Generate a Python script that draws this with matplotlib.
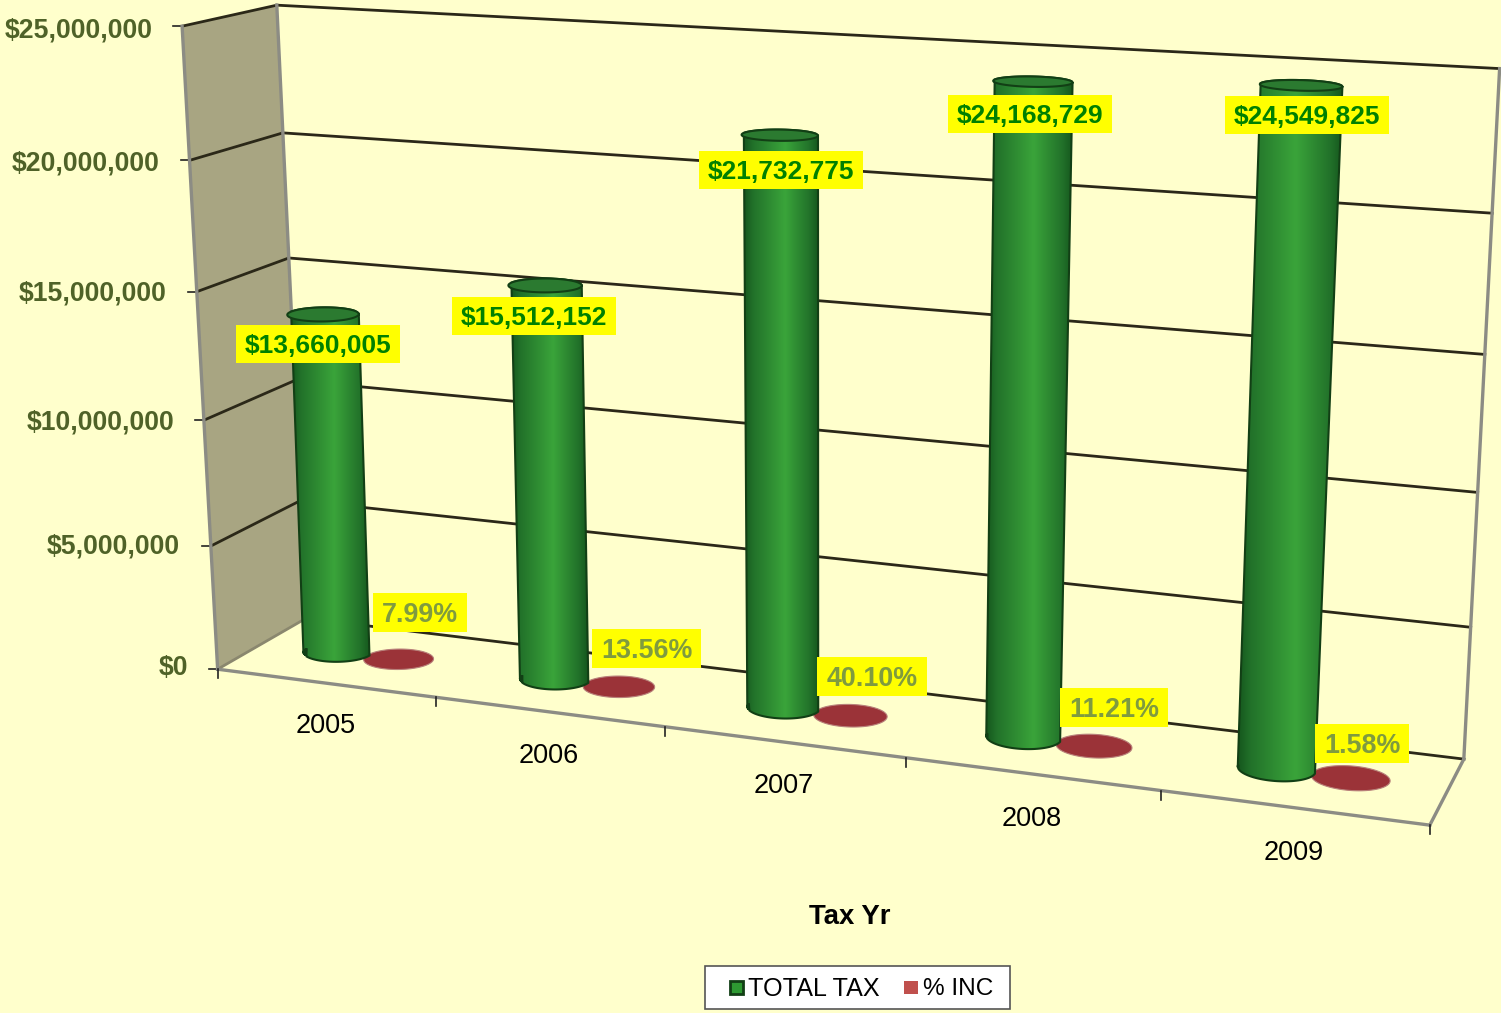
import numpy as np
import matplotlib
matplotlib.use('Agg')
import matplotlib.pyplot as plt
from matplotlib.patches import Polygon, Rectangle

plt.rcParams['font.family'] = ['Liberation Sans', 'DejaVu Sans']

years = ['2005', '2006', '2007', '2008', '2009']
total_tax = [13660005, 15512152, 21732775, 24168729, 24549825]
pct_inc = [7.99, 13.56, 40.10, 11.21, 1.58]
tax_labels = ['$13,660,005', '$15,512,152', '$21,732,775', '$24,168,729', '$24,549,825']
pct_labels = ['7.99%', '13.56%', '40.10%', '11.21%', '1.58%']
axis_ticks = [0, 5000000, 10000000, 15000000, 20000000, 25000000]

# text positions, in picture pixels
axis_label_y = [668, 546, 422, 293, 163, 30]
axis_label_right = [188, 180, 174, 167, 160, 153]
year_label_y = [726, 756, 786, 819, 853]
tax_label_pos = [(318, 344), (534, 316), (781, 170), (1030, 114), (1307, 115)]
pct_label_pos = [(420, 612.5), (646.5, 648.5), (872, 676.5), (1114, 707.5), (1362, 743.5)]

BG = '#FFFFCC'
WALL = '#A8A582'
GRID = '#2B2818'
EDGE = '#8C8C84'
AXIS_TEXT = '#4F6228'
DARK = '#123F15'

# the chart is a 3d box: (category, value, depth) -> pixel, fitted on the box's corners
calib = [
    (0, 0, 0, 219, 667), (1, 0, 0, 437, 696), (2, 0, 0, 665, 726), (3, 0, 0, 907, 759),
    (4, 0, 0, 1161, 792), (5, 0, 0, 1430, 828),
    (0, 5e6, 0, 211, 543), (0, 10e6, 0, 202, 420), (0, 15e6, 0, 195, 291),
    (0, 20e6, 0, 188, 160), (0, 25e6, 0, 183, 28), (0, 25e6, 0, 183, 28),
    (0, 0, 1, 306, 622), (0, 5e6, 1, 300, 503), (0, 10e6, 1, 295, 382),
    (0, 15e6, 1, 289, 256), (0, 20e6, 1, 283, 131), (0, 25e6, 1, 277, 5),
    (5, 0, 1, 1463, 757), (5, 5e6, 1, 1470, 627), (5, 10e6, 1, 1478, 491),
    (5, 15e6, 1, 1484, 353), (5, 20e6, 1, 1492, 213), (5, 25e6, 1, 1501, 70),
]


def fit_camera(points):
    rows = []
    for u, v, d, px, py in points:
        w = [u, v / 1e7, d, 1]
        rows.append(w + [0, 0, 0, 0] + [-px * c for c in w])
        rows.append([0, 0, 0, 0] + w + [-py * c for c in w])
    return np.linalg.svd(np.array(rows, dtype=float))[2][-1].reshape(3, 4)


cam = fit_camera(calib)


def project(u, v, d):
    u, v, d = np.broadcast_arrays(u, v, d)
    w = np.stack([u, v / 1e7, d, np.ones(u.shape)])
    p = cam @ w
    return p[0] / p[2], p[1] / p[2]


ANGLES = np.linspace(0, 2 * np.pi, 121)


def ring(u, v, d, ru=0.147, rd=0.18):
    return project(u + ru * np.cos(ANGLES), v, d + rd * np.sin(ANGLES))


def cylinder(ax, u, d, value):
    bx, by = ring(u, 0, d)
    tx, ty = ring(u, value, d)
    # side of the cylinder: lower half of the base, upper half of the top
    low = np.sin(ANGLES) < 0
    order = np.argsort(bx[low])
    side_x = list(bx[low][order])
    side_y = list(by[low][order])
    up = np.sin(ANGLES) > 0
    order = np.argsort(tx[up])[::-1]
    side_x += list(tx[up][order])
    side_y += list(ty[up][order])
    xy = np.column_stack([side_x, side_y])
    ax.add_patch(Polygon(xy, closed=True, fc='none', ec=DARK, lw=1.5, zorder=5))
    shade = np.array([0.0, 0.12, 0.55, 0.88, 1.0])
    x = np.linspace(0, 1, 64)
    rgb = np.stack([
        np.interp(x, shade, [0x16, 0x22, 0x3A, 0x22, 0x16]),
        np.interp(x, shade, [0x58, 0x72, 0xA4, 0x72, 0x58]),
        np.interp(x, shade, [0x1E, 0x2A, 0x3A, 0x2A, 0x1E]),
    ], axis=-1) / 255
    im = ax.imshow(rgb[np.newaxis, :, :], extent=(min(side_x), max(side_x), max(side_y), min(side_y)),
                   aspect='auto', interpolation='bilinear', zorder=4)
    im.set_clip_path(Polygon(xy, closed=True, transform=ax.transData))
    ax.add_patch(Polygon(np.column_stack([tx, ty]), closed=True, fc='#2B7A30', ec=DARK, lw=1.5, zorder=6))


def boxed_label(ax, pos, text, color, fontsize, height):
    lx, ly = pos
    t = ax.text(lx, ly + 2, text, ha='center', va='center', fontsize=fontsize, fontweight='bold',
                color=color, zorder=9)
    width = t.get_window_extent(fig.canvas.get_renderer()).width + 18
    ax.add_patch(Rectangle((lx - width / 2, ly - height / 2), width, height, fc='#FFFF00', ec='none', zorder=8))


fig = plt.figure(figsize=(15.01, 10.13), dpi=100, facecolor=BG)
ax = fig.add_axes([0, 0, 1, 1])
ax.set_xlim(0, 1501)
ax.set_ylim(1013, 0)
ax.axis('off')

# left wall
wall = [project(0, 0, 0), project(0, 25e6, 0), project(0, 25e6, 1), project(0, 0, 1)]
ax.add_patch(Polygon(wall, closed=True, fc=WALL, ec='none', zorder=1))

# gridlines across back wall and left wall
for tick, label_y, label_right in zip(axis_ticks, axis_label_y, axis_label_right):
    lx, ly = project([0, 0, 5], tick, [0, 1, 1])
    col = GRID if tick > 0 else '#8A876E'
    ax.plot(lx[:2], ly[:2], color=col, lw=2, zorder=2, solid_capstyle='round')
    ax.plot(lx[1:], ly[1:], color=GRID, lw=2, zorder=2)
    ax.plot([lx[0] - 9, lx[0]], [ly[0], ly[0]], color='#222222', lw=1.2, zorder=2)
    ax.text(label_right, label_y, '${:,}'.format(tick), ha='right', va='center', fontsize=19.2,
            fontweight='bold', color=AXIS_TEXT, zorder=3)

# box edges
for a, b in [((0, 0, 0), (5, 0, 0)), ((0, 0, 0), (0, 25e6, 0)), ((5, 0, 0), (5, 0, 1)),
             ((5, 0, 1), (5, 25e6, 1)), ((0, 0, 1), (0, 25e6, 1))]:
    ex, ey = project(*zip(a, b))
    ax.plot(ex, ey, color=EDGE, lw=2.4, zorder=2)

# category ticks
for i in range(6):
    px, py = project(i, 0, 0)
    ax.plot([px, px], [py, py + 9], color='#222222', lw=1.2, zorder=2)

for i, year in enumerate(years):
    px, py = project(i + 0.5, 0, 0)
    ax.text(px, year_label_y[i], year, ha='center', va='center', fontsize=19.5, color='black', zorder=3)

# flat % INC discs, then the tax cylinders
for i, pct in enumerate(pct_inc):
    rx, ry = ring(i + 0.635, pct / 100, 0.515)
    ax.add_patch(Polygon(np.column_stack([rx, ry]), closed=True, fc='#9B3338', ec='#B8807A', lw=0.8, zorder=3))

for i, tax in enumerate(total_tax):
    cylinder(ax, i + 0.352, 0.515, tax)

ax.set_xlim(0, 1501)
ax.set_ylim(1013, 0)

for pos, text in zip(tax_label_pos, tax_labels):
    boxed_label(ax, pos, text, '#008000', 19, 38)

for pos, text in zip(pct_label_pos, pct_labels):
    boxed_label(ax, pos, text, '#7F9B3F', 19.4, 39)

ax.text(849.5, 917, 'Tax Yr', ha='center', va='center', fontsize=19.8, fontweight='bold', color='black')

# legend
ax.add_patch(Rectangle((704.5, 966), 305, 43, fc='white', ec='#555555', lw=1.2, zorder=3))
ax.add_patch(Rectangle((729.5, 981), 13, 13, fc='#2E9A32', ec=DARK, lw=2, zorder=4))
ax.text(748, 989, 'TOTAL TAX', ha='left', va='center', fontsize=18.1, color='black', zorder=4)
ax.add_patch(Rectangle((904, 981), 14, 13, fc='#C0504D', ec='none', zorder=4))
ax.text(923, 989, '% INC', ha='left', va='center', fontsize=17.6, color='black', zorder=4)

fig.savefig('out.png', dpi=100, facecolor=BG)
